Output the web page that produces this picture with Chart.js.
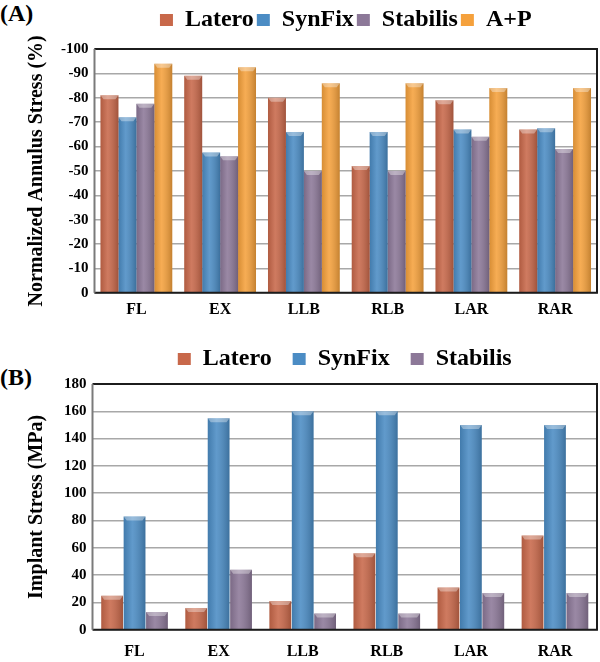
<!DOCTYPE html>
<html>
<head>
<meta charset="utf-8">
<script src="https://cdn.jsdelivr.net/npm/chart.js@4/dist/chart.umd.min.js"></script>
<style>
  html, body { margin: 0; padding: 0; background: #fff; }
  body { width: 600px; height: 662px; position: relative; overflow: hidden; font-family: 'Liberation Serif', serif; }
  .panel { position: absolute; left: 0; width: 600px; }
  .tag { position: absolute; left: 0; font-weight: bold; font-size: 24px; line-height: 24px; color: #000; }
</style>
</head>
<body>
<div class="tag" style="top:1px">(A)</div>
<div class="tag" style="top:365px">(B)</div>
<div class="panel" style="top:0; height:330px"><canvas id="chartA"></canvas></div>
<div class="panel" style="top:326px; height:348px"><canvas id="chartB"></canvas></div>
<script>
// categories and values
const motions = ['FL', 'EX', 'LLB', 'RLB', 'LAR', 'RAR'];

// (A) normalized annulus stress, %
const annLatero   = [-81, -89, -80, -52, -79, -67];
const annSynFix   = [-72, -57.5, -66, -66, -67, -67.5];
const annStabilis = [-77.5, -56, -50, -50, -64, -59];
const annAP       = [-94, -92.5, -86, -86, -84, -84];
const ticksA = [0, -10, -20, -30, -40, -50, -60, -70, -80, -90, -100];

// (B) implant stress, MPa
const impLatero   = [25, 16, 21, 56, 31, 69];
const impSynFix   = [83, 155, 160, 160, 150, 150];
const impStabilis = [13, 44, 12, 12, 27, 27];
const ticksB = [0, 20, 40, 60, 80, 100, 120, 140, 160, 180];

const colors = {
  latero: '#c8684a',
  synfix: '#4b8cc4',
  stabilis: '#8c7898',
  ap: '#f5a13c'
};

const serif = 'Liberation Serif';

// pushes the plot area down below the legend
const legendGap = {
  id: 'legendGap',
  beforeInit(chart, args, opts) {
    const fit = chart.legend.fit;
    chart.legend.fit = function () {
      fit.bind(this)();
      this.height += opts.gap || 0;
    };
  }
};

// cylinder-ish shading on the bars, like the original excel look
const barShade = {
  id: 'barShade',
  afterDatasetsDraw(chart) {
    const ctx = chart.ctx;
    ctx.save();
    chart.data.datasets.forEach((ds, i) => {
      chart.getDatasetMeta(i).data.forEach(bar => {
        const p = bar.getProps(['x', 'y', 'base', 'width'], true);
        const left = p.x - p.width / 2;
        const top = Math.min(p.y, p.base);
        const h = Math.abs(p.base - p.y);
        const g = ctx.createLinearGradient(left, 0, left + p.width, 0);
        g.addColorStop(0, 'rgba(0,0,0,0.12)');
        g.addColorStop(0.4, 'rgba(255,255,255,0.12)');
        g.addColorStop(1, 'rgba(0,0,0,0.2)');
        ctx.fillStyle = g;
        ctx.fillRect(left, top, p.width, h);
        ctx.fillStyle = 'rgba(255,255,255,0.35)';
        ctx.beginPath();
        ctx.moveTo(left, top);
        ctx.lineTo(left + p.width, top);
        ctx.lineTo(left + p.width - 3, top + 4);
        ctx.lineTo(left + 3, top + 4);
        ctx.closePath();
        ctx.fill();
      });
    });
    ctx.restore();
  }
};

// dark box round the plot area
const plotFrame = {
  id: 'plotFrame',
  afterDraw(chart) {
    const {ctx, chartArea: a} = chart;
    ctx.save();
    ctx.strokeStyle = '#1c1c1c';
    ctx.lineWidth = 2;
    ctx.beginPath();
    ctx.moveTo(a.left, a.top);
    ctx.lineTo(a.right, a.top);
    ctx.lineTo(a.right, a.bottom);
    ctx.lineTo(a.left, a.bottom);
    ctx.stroke();
    ctx.strokeStyle = '#7a7a7a';
    ctx.beginPath();
    ctx.moveTo(a.left, a.top);
    ctx.lineTo(a.left, a.bottom);
    ctx.stroke();
    ctx.restore();
  }
};

function bar(label, data, color, opts) {
  return Object.assign({
    label: label,
    data: data,
    backgroundColor: color,
    borderWidth: 0
  }, opts);
}

function baseOptions(o) {
  return {
    responsive: true,
    maintainAspectRatio: false,
    animation: false,
    layout: { padding: o.padding },
    plugins: {
      legend: {
        position: 'top',
        fullSize: false,
        labels: {
          color: '#000',
          font: { family: serif, size: 24, weight: 'bold' },
          boxWidth: 13,
          boxHeight: 12,
          padding: o.legendPad
        }
      },
      legendGap: { gap: o.gap },
      tooltip: { enabled: false }
    },
    scales: {
      x: {
        grid: { display: false, drawTicks: false },
        border: { display: false },
        ticks: {
          color: '#000',
          padding: o.xPad,
          font: { family: serif, size: 16, weight: 'bold' }
        }
      },
      y: {
        min: o.min,
        max: o.max,
        reverse: o.reverse,
        afterBuildTicks: scale => { scale.ticks = o.ticks.map(v => ({ value: v })); },
        grid: { color: '#a8a8a8', lineWidth: 1.5, drawTicks: false },
        border: { display: false },
        ticks: {
          color: '#000',
          padding: 6,
          font: { family: serif, size: 15, weight: 'bold' }
        },
        title: {
          display: true,
          text: o.title,
          color: '#000',
          font: { family: serif, size: 20, weight: 'bold' },
          padding: { top: 25, bottom: o.titleBottom }
        }
      }
    }
  };
}

new Chart(document.getElementById('chartA'), {
  type: 'bar',
  data: {
    labels: motions,
    datasets: [
      bar('Latero', annLatero, colors.latero),
      bar('SynFix', annSynFix, colors.synfix),
      bar('Stabilis', annStabilis, colors.stabilis),
      bar('A+P', annAP, colors.ap)
    ].map(d => Object.assign(d, { categoryPercentage: 0.857, barPercentage: 1.0 }))
  },
  options: baseOptions({
    padding: { top: 5, right: 3, bottom: 4, left: 0 },
    legendPad: 3, gap: 7, xPad: 7,
    min: -100, max: 0, reverse: true, ticks: ticksA,
    title: 'Normalized Annulus Stress (%)', titleBottom: 6
  }),
  plugins: [legendGap, barShade, plotFrame]
});

new Chart(document.getElementById('chartB'), {
  type: 'bar',
  data: {
    labels: motions,
    datasets: [
      bar('Latero', impLatero, colors.latero),
      bar('SynFix', impSynFix, colors.synfix),
      bar('Stabilis', impStabilis, colors.stabilis)
    ].map(d => Object.assign(d, { categoryPercentage: 0.8, barPercentage: 0.97 }))
  },
  options: baseOptions({
    padding: { top: 0, right: 3, bottom: 1, left: 0 },
    legendPad: 21, gap: 3, xPad: 12,
    min: 0, max: 180, reverse: false, ticks: ticksB,
    title: 'Implant Stress (MPa)', titleBottom: 9
  }),
  plugins: [legendGap, barShade, plotFrame]
});
</script>
</body>
</html>
